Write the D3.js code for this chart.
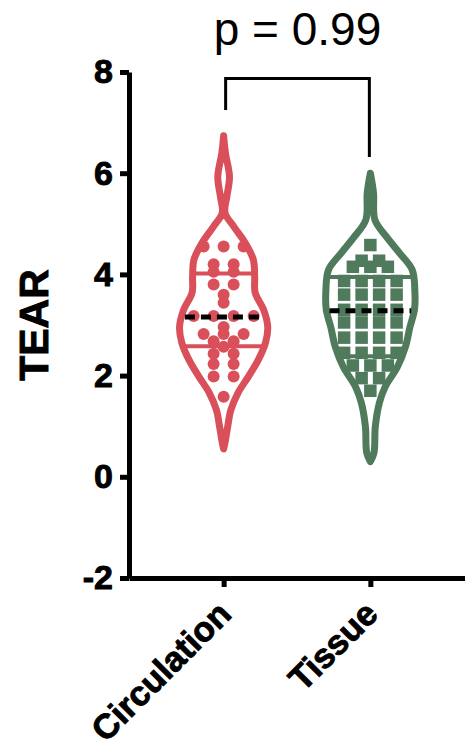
<!DOCTYPE html>
<html>
<head>
<meta charset="utf-8">
<script src="https://cdnjs.cloudflare.com/ajax/libs/d3/7.8.5/d3.min.js"></script>
<style>
body { margin: 0; background: #fff; }
text { font-family: "Liberation Sans", Arial, sans-serif; }
</style>
</head>
<body>
<script>
var categories = ["Circulation", "Tissue"];
var colors = ["#d9505a", "#507a5c"];
var yTicks = [-2, 0, 2, 4, 6, 8];

// single points
var circValues = [4.55, 4.55, 4.55, 4.2, 4.2, 4.05, 4.05, 3.8, 3.8, 3.6, 3.44,
	3.18, 3.18, 3.18, 3.18, 2.96, 2.82, 2.82, 2.82, 2.68, 2.68, 2.57,
	2.43, 2.43, 2.23, 2.23, 1.98, 1.98, 1.58];
var tissueValues = [4.58, 4.27, 4.27, 4.15, 4.15, 4.15, 3.87, 3.87, 3.87, 3.87,
	3.6, 3.6, 3.6, 3.6, 3.3, 3.3, 3.3, 3.3, 3.05, 3.05, 3.05, 3.05,
	2.75, 2.75, 2.75, 2.75, 2.45, 2.45, 2.45, 2.45, 2.2, 2.2, 2.2,
	1.95, 1.95, 1.7];

// violin outline: value levels and relative density
var circLevels = [6.74, 6.40, 5.93, 5.53, 5.22, 4.94, 4.62, 4.29, 3.95, 3.64, 3.30,
	2.96, 2.65, 2.31, 1.98, 1.66, 1.32, 0.99, 0.67, 0.55];
var circDensity = [0, 0.04, 0.13, 0.07, 0.03, 0.23, 0.48, 0.66, 0.69, 0.70, 0.89,
	0.98, 0.93, 0.77, 0.55, 0.32, 0.16, 0.09, 0.03, 0];
var tissueLevels = [6.0, 5.61, 5.08, 4.74, 4.43, 4.09, 3.64, 3.30, 2.96, 2.57,
	2.17, 1.78, 1.46, 0.99, 0.47, 0.3];
var tissueDensity = [0, 0.07, 0.10, 0.36, 0.64, 0.93, 0.99, 0.98, 0.88, 0.78,
	0.60, 0.33, 0.20, 0.11, 0.08, 0];

var medians = [3.16, 3.28];
var lowerQ = [2.58, 2.38];
var upperQ = [4.02, 3.95];

var pText = "p = 0.99";
var bracketTop = 7.87;
var bracketLegs = [7.25, 6.32];

var width = 465, height = 749;
var svg = d3.select("body").append("svg")
	.attr("width", width)
	.attr("height", height);

var y = d3.scaleLinear().domain([-2, 8]).range([578, 72]);
var x = d3.scalePoint().domain(categories).range([129, 465]).padding(0.645);
var w = d3.scaleLinear().domain([0, 1]).range([0, 45]);

var groups = [
	{name: categories[0], color: colors[0], values: circValues, levels: circLevels, density: circDensity, shape: "circle", gap: 20},
	{name: categories[1], color: colors[1], values: tissueValues, levels: tissueLevels, density: tissueDensity, shape: "square", gap: 17.5}
];

groups.forEach(function(g, i){
	var cx = x(g.name);
	var prof = g.levels.map(function(l, k){ return {v: l, d: g.density[k]}; });
	var dens = d3.scaleLinear().domain(g.levels).range(g.density);
	var vg = svg.append("g");

	var area = d3.area()
		.y(function(p){ return y(p.v); })
		.x0(function(p){ return cx - w(p.d); })
		.x1(function(p){ return cx + w(p.d); })
		.curve(d3.curveCatmullRom);

	vg.append("path")
		.attr("d", area(prof))
		.attr("fill", "none")
		.attr("stroke", g.color)
		.attr("stroke-width", 7)
		.attr("stroke-linejoin", "round");

	// quartiles
	vg.selectAll("line.q")
		.data([lowerQ[i], upperQ[i]])
		.enter().append("line")
		.attr("class", "q")
		.attr("x1", function(q){ return cx - w(dens(q)); })
		.attr("x2", function(q){ return cx + w(dens(q)); })
		.attr("y1", function(q){ return y(q); })
		.attr("y2", function(q){ return y(q); })
		.attr("stroke", g.color)
		.attr("stroke-width", 4);

	// points: same value -> one row, spread around the centre
	var pts = [];
	d3.group(g.values, function(v){ return v; }).forEach(function(arr, v){
		arr.forEach(function(a, k){
			pts.push({v: v, dx: (k - (arr.length - 1) / 2) * g.gap});
		});
	});

	if (g.shape == "circle") {
		vg.selectAll("circle")
			.data(pts)
			.enter().append("circle")
			.attr("cx", function(p){ return cx + p.dx; })
			.attr("cy", function(p){ return y(p.v); })
			.attr("r", 6)
			.attr("fill", g.color);
	} else {
		var s = 12.5;
		vg.selectAll("rect")
			.data(pts)
			.enter().append("rect")
			.attr("x", function(p){ return cx + p.dx - s / 2; })
			.attr("y", function(p){ return y(p.v) - s / 2; })
			.attr("width", s)
			.attr("height", s)
			.attr("fill", g.color);
	}

	// median
	var m = medians[i];
	vg.append("line")
		.attr("x1", cx - w(dens(m)) + 3)
		.attr("x2", cx + w(dens(m)) - 3)
		.attr("y1", y(m))
		.attr("y2", y(m))
		.attr("stroke", "#000")
		.attr("stroke-width", 5)
		.attr("stroke-dasharray", "10,6");
});

// axes
var yAxis = d3.axisLeft(y).tickValues(yTicks).tickSize(9).tickSizeOuter(0).tickPadding(7)
	.tickFormat(function(d){ return String(d); });
var ya = svg.append("g").attr("transform", "translate(129,0)").call(yAxis);

var xAxis = d3.axisBottom(x).tickSize(9).tickSizeOuter(0);
var xa = svg.append("g").attr("transform", "translate(0,578)").call(xAxis);

[ya, xa].forEach(function(a){
	a.select(".domain").attr("stroke", "#000").attr("stroke-width", 5);
	a.selectAll(".tick line").attr("stroke", "#000").attr("stroke-width", 5);
	a.selectAll(".tick text")
		.attr("fill", "#000")
		.attr("font-size", 34)
		.attr("font-weight", "bold")
		.attr("font-family", "'Liberation Sans', Arial, sans-serif")
		.attr("stroke", "#000")
		.attr("stroke-width", 0.9);
});

xa.selectAll(".tick text")
	.attr("font-size", 34.5)
	.attr("x", 0).attr("y", 0).attr("dy", 0)
	.attr("text-anchor", "end")
	.attr("transform", "translate(9,38) rotate(-45)");

// y title
svg.append("text")
	.attr("transform", "translate(48," + (y(8) + y(-2)) / 2 + ") rotate(-90)")
	.attr("text-anchor", "middle")
	.attr("font-size", 41)
	.attr("font-weight", "bold")
	.attr("stroke", "#000")
	.attr("stroke-width", 0.9)
	.text("TEAR");

// comparison bracket
var bx0 = x(categories[0]) + 2, bx1 = x(categories[1]) - 1;
svg.append("path")
	.attr("d", "M" + bx0 + "," + y(bracketLegs[0]) + "V" + y(bracketTop) + "H" + bx1 + "V" + y(bracketLegs[1]))
	.attr("fill", "none")
	.attr("stroke", "#000")
	.attr("stroke-width", 3);

svg.append("text")
	.attr("x", (bx0 + bx1) / 2)
	.attr("y", 45)
	.attr("text-anchor", "middle")
	.attr("font-size", 46)
	.text(pText);
</script>
</body>
</html>
